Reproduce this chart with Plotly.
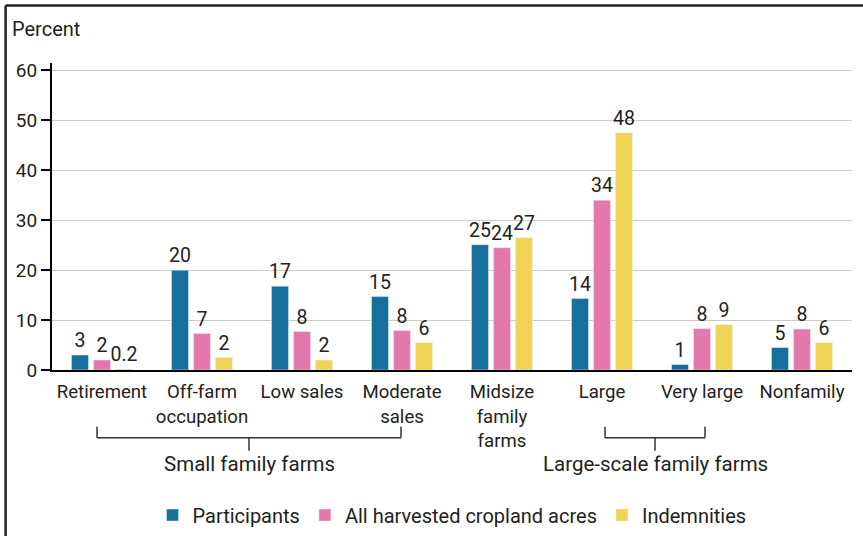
import plotly.graph_objects as go

# Farm typology categories (x axis)
categories = [
    "Retirement",
    "Off-farm<br>occupation",
    "Low sales",
    "Moderate<br>sales",
    "Midsize<br>family<br>farms",
    "Large",
    "Very large",
    "Nonfamily",
]

# Shares in percent
participants = [3.0, 20.0, 16.8, 14.7, 25.1, 14.3, 1.1, 4.5]
cropland_acres = [2.0, 7.3, 7.7, 7.9, 24.5, 34.0, 8.3, 8.2]
indemnities = [0.2, 2.5, 2.0, 5.5, 26.5, 47.5, 9.1, 5.5]

# Printed labels above bars
participants_lbl = ["3", "20", "17", "15", "25", "14", "1", "5"]
cropland_lbl = ["2", "7", "8", "8", "24", "34", "8", "8"]
indemnities_lbl = ["0.2", "2", "2", "6", "27", "48", "9", "6"]

series = [
    ("Participants", participants, participants_lbl, "#176f9c"),
    ("All harvested cropland acres", cropland_acres, cropland_lbl, "#e278ac"),
    ("Indemnities", indemnities, indemnities_lbl, "#f0d455"),
]

FONT = "Roboto"
TXT = "#222222"

fig = go.Figure()
for name, vals, lbls, color in series:
    fig.add_trace(
        go.Bar(
            x=categories,
            y=vals,
            name=name,
            marker=dict(color=color),
            text=lbls,
            textposition="outside",
            constraintext="none",
            textfont=dict(family=FONT, size=19.5, color=TXT),
            cliponaxis=False,
        )
    )

# brackets grouping categories
brackets = [
    (-0.05, 2.99, "Small family farms"),
    (5.03, 6.03, "Large-scale family farms"),
]
shapes = []
annotations = []
for x0, x1, label in brackets:
    xm = (x0 + x1) / 2
    for xa, ya, xb, yb in [
        (x0, -0.185, x0, -0.221),
        (x0, -0.221, x1, -0.221),
        (x1, -0.221, x1, -0.185),
        (xm, -0.221, xm, -0.263),
    ]:
        shapes.append(dict(type="line", xref="x", yref="paper",
                           x0=xa, y0=ya, x1=xb, y1=yb,
                           line=dict(color="#333333", width=1.5)))
    annotations.append(dict(x=xm, y=-0.306, xref="x", yref="paper",
                            text=label, showarrow=False, yanchor="middle",
                            font=dict(family=FONT, size=20.5, color=TXT)))

# frame (top and left edges of the outer box)
shapes.append(dict(type="line", xref="paper", yref="paper",
                   x0=-0.058, y0=1.187, x1=1.06, y1=1.187,
                   line=dict(color="#222222", width=2.5)))
shapes.append(dict(type="line", xref="paper", yref="paper",
                   x0=-0.058, y0=1.187, x1=-0.058, y1=-0.6,
                   line=dict(color="#222222", width=2.5)))

annotations.append(dict(x=-0.052, y=1.11, xref="paper", yref="paper",
                        text="Percent", showarrow=False,
                        xanchor="left", yanchor="middle",
                        font=dict(family=FONT, size=20, color=TXT)))

fig.update_layout(
    width=863,
    height=536,
    margin=dict(l=52, r=11, t=62.5, b=166),
    paper_bgcolor="white",
    plot_bgcolor="white",
    barmode="group",
    bargap=0.34,
    bargroupgap=0.227,
    font=dict(family=FONT, size=18, color=TXT),
    showlegend=True,
    legend=dict(
        orientation="h",
        x=0.5, xanchor="center",
        yref="container",
        y=0.039, yanchor="middle",
        font=dict(family=FONT, size=20, color=TXT),
        itemwidth=30,
        traceorder="normal",
    ),
    xaxis=dict(
        showline=True, linecolor="black", linewidth=2,
        ticks="", showgrid=False,
        ticklabelstandoff=4,
        tickfont=dict(family=FONT, size=18.6, color=TXT),
    ),
    yaxis=dict(
        range=[0, 61.5],
        tickvals=[0, 10, 20, 30, 40, 50, 60],
        showline=True, linecolor="black", linewidth=2,
        ticks="outside", ticklen=9, tickwidth=2, tickcolor="black",
        showgrid=True, gridcolor="#cccccc", gridwidth=1,
        zeroline=False,
        tickfont=dict(family=FONT, size=19, color=TXT),
    ),
    shapes=shapes,
    annotations=annotations,
)

fig.write_html(
    "out.html",
    config={"displayModeBar": False},
    post_script="document.body.style.margin='0';",
)
